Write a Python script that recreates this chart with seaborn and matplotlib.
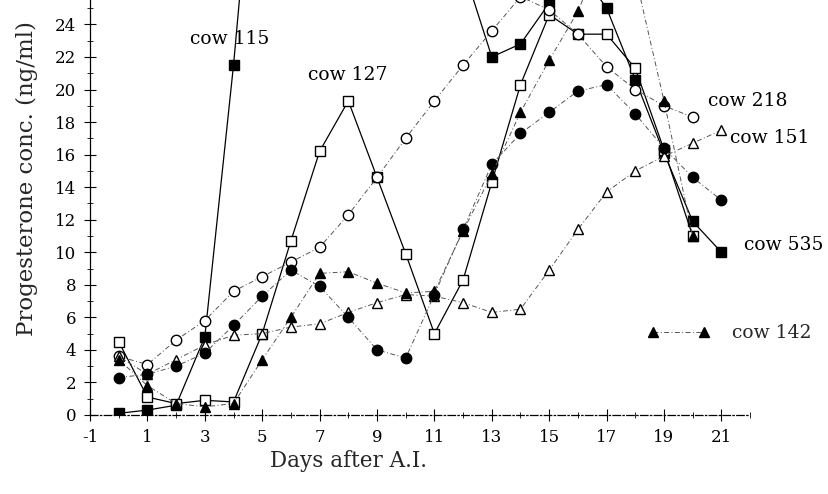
import matplotlib
matplotlib.use("Agg")
import matplotlib.pyplot as plt
from matplotlib.lines import Line2D
from matplotlib.ticker import MultipleLocator, FuncFormatter
import pandas as pd
import seaborn as sns

sns.set_theme(style="ticks")
plt.rcParams['font.family'] = ['DejaVu Serif']

# progesterone (ng/ml) per day after A.I.
days = list(range(0, 22))

cow115_days = [0, 1, 2, 3, 4, 5, 12, 13, 14, 15, 16, 17, 18, 19, 20, 21]
cow115 = [0.1, 0.3, 0.6, 4.8, 21.5, 41.0, 27.5, 22.0, 22.8, 25.3, 27.5,
          25.0, 20.6, 16.1, 11.9, 10.0]

cow127 = [4.5, 1.1, 0.7, 0.9, 0.8, 5.0, 10.7, 16.2, 19.3, 14.6, 9.9, 5.0,
          8.3, 14.3, 20.3, 24.6, 23.4, 23.4, 21.3, 16.3, 11.0]

cow218 = [3.6, 3.1, 4.6, 5.8, 7.6, 8.5, 9.4, 10.3, 12.3, 14.6, 17.0, 19.3,
          21.5, 23.6, 25.7, 24.9, 23.4, 21.4, 20.0, 19.0, 18.3]

cow151 = [3.6, 2.5, 3.4, 4.3, 4.9, 5.0, 5.4, 5.6, 6.3, 6.9, 7.4, 7.3, 6.9,
          6.3, 6.5, 8.9, 11.4, 13.7, 15.0, 15.9, 16.7, 17.5]

cow535 = [2.3, 2.5, 3.0, 3.8, 5.5, 7.3, 8.9, 7.9, 6.0, 4.0, 3.5, 7.4, 11.4,
          15.4, 17.3, 18.6, 19.9, 20.3, 18.5, 16.4, 14.6, 13.2]

cow142 = [3.4, 1.8, 0.7, 0.5, 0.7, 3.4, 6.0, 8.7, 8.8, 8.1, 7.5, 7.6, 11.3,
          14.8, 18.6, 21.8, 24.8, 29.0, 27.0, 19.3, 11.0]

x_ticks = list(range(-1, 22, 2))
y_ticks = list(range(0, 25, 2))

dashdot = (0, (5, 2.5, 1, 2.5))

series = [
    # name, x, y, marker, filled, linestyle
    ("cow 115", cow115_days, cow115, "s", True, "-"),
    ("cow 127", days[:len(cow127)], cow127, "s", False, "-"),
    ("cow 218", days[:len(cow218)], cow218, "o", False, dashdot),
    ("cow 151", days[:len(cow151)], cow151, "^", False, dashdot),
    ("cow 535", days[:len(cow535)], cow535, "o", True, dashdot),
    ("cow 142", days[:len(cow142)], cow142, "^", True, dashdot),
]

fig = plt.figure(figsize=(8.29, 4.94), dpi=100)
ax = fig.add_axes([0.1086, 0.16, 0.7962, 0.84])

for name, xs, ys, mk, filled, ls in series:
    df = pd.DataFrame({"day": xs, "conc": ys})
    solid = ls == "-"
    sns.lineplot(data=df, x="day", y="conc", ax=ax, sort=False,
                 color="black" if solid else "#555555",
                 linestyle=ls, linewidth=0.9 if solid else 0.7,
                 marker=mk, markersize=7.5,
                 markerfacecolor="black" if filled else "white",
                 markeredgecolor="black", markeredgewidth=1.0)

ax.set_xlim(-1, 22)
ax.set_ylim(0, 25.5)

ax.xaxis.set_major_locator(plt.FixedLocator(x_ticks))
ax.xaxis.set_minor_locator(MultipleLocator(1))
ax.yaxis.set_major_locator(plt.FixedLocator(y_ticks))
ax.yaxis.set_minor_locator(MultipleLocator(1))
ax.xaxis.set_major_formatter(FuncFormatter(lambda v, p: f"{int(v)}"))
ax.yaxis.set_major_formatter(FuncFormatter(lambda v, p: f"{int(v)}"))
ax.tick_params(which="major", direction="inout", length=8, width=0.8,
               labelsize=12, colors="black")
ax.tick_params(which="minor", direction="inout", length=5, width=0.7)
ax.tick_params(axis="x", pad=6)
ax.tick_params(axis="y", pad=6)

for side in ["top", "right"]:
    ax.spines[side].set_visible(False)
ax.spines["left"].set_color("black")
ax.spines["left"].set_linewidth(0.9)
ax.spines["bottom"].set_color("black")
ax.spines["bottom"].set_linewidth(0.9)
ax.spines["bottom"].set_linestyle((0, (6, 2, 1, 2)))

ax.set_xlabel("Days after A.I.", fontsize=15.5)
ax.set_ylabel("Progesterone conc. (ng/ml)", fontsize=16.5)
ax.xaxis.set_label_coords(0.392, -0.085)
ax.yaxis.set_label_coords(-0.079, 0.57)

# series labels
label_kw = dict(fontsize=13.5, va="center", ha="left", color="black")
ax.text(2.5, 23.1, "cow 115", **label_kw)
ax.text(6.6, 20.9, "cow 127", **label_kw)
ax.text(20.55, 19.3, "cow 218", **label_kw)
ax.text(21.3, 17.05, "cow 151", **label_kw)
ax.text(21.8, 10.45, "cow 535", **label_kw)

h142 = Line2D([], [], color="#555555", linestyle=dashdot, linewidth=0.7,
              marker="^", markersize=7.5, markerfacecolor="black",
              markeredgecolor="black")
ax.legend(handles=[h142], labels=["cow 142"], numpoints=2, frameon=False,
          loc="center left", bbox_to_anchor=(0.845, 0.197), fontsize=13.5,
          handlelength=3.3, handletextpad=1.2, borderpad=0, borderaxespad=0)

fig.savefig("out.png", dpi=100)
